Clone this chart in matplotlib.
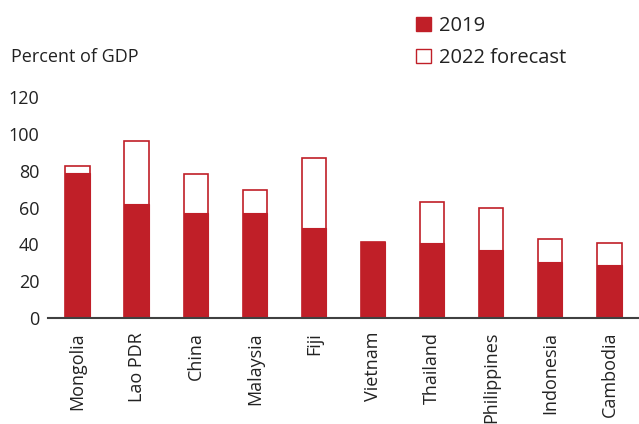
import matplotlib
matplotlib.use("Agg")
import matplotlib.pyplot as plt
from matplotlib.patches import Patch

countries = ["Mongolia", "Lao PDR", "China", "Malaysia", "Fiji", "Vietnam",
             "Thailand", "Philippines", "Indonesia", "Cambodia"]
debt_2019 = [79, 62, 57, 57, 49, 41.5, 41, 37, 30.5, 29]
debt_2022 = [82.5, 96, 78, 69.5, 87, 41.5, 63, 60, 43, 41]
yticks = [0, 20, 40, 60, 80, 100, 120]

red = "#C01F28"
plt.rcParams['font.family'] = ['Open Sans', 'DejaVu Sans']

fig = plt.figure(figsize=(6.39, 4.24), dpi=100)
ax = fig.add_axes([0.075, 0.25, 0.925, 0.521])

x = range(len(countries))
w = 0.41
ax.bar(x, debt_2022, width=w, facecolor="white", edgecolor=red, linewidth=1.2, zorder=2)
ax.bar(x, debt_2019, width=w, facecolor=red, edgecolor=red, linewidth=0.8, zorder=3)

ax.set_xlim(-0.5, 9.5)
ax.set_ylim(0, 120)
ax.set_yticks(yticks)
ax.set_xticks(list(x))
ax.set_xticklabels(countries, rotation=90, fontsize=13, color="#222222")
ax.tick_params(axis='y', length=0, labelsize=13, labelcolor="#222222", pad=6)
ax.tick_params(axis='x', length=0, pad=10)
for s in ["top", "right", "left"]:
    ax.spines[s].set_visible(False)
ax.spines["bottom"].set_color("#404040")
ax.spines["bottom"].set_linewidth(1.5)
ax.spines["bottom"].set_zorder(4)

fig.text(0.017, 0.866, "Percent of GDP", fontsize=13, color="#222222", va="center", ha="left")

handles = [Patch(facecolor=red, edgecolor=red, label="2019"),
           Patch(facecolor="white", edgecolor=red, label="2022 forecast")]
fig.legend(handles=handles, loc="upper left", bbox_to_anchor=(0.622, 1.005), frameon=False,
           fontsize=14.5, handlelength=0.75, handleheight=0.75, handletextpad=0.4,
           labelspacing=0.6, labelcolor="#222222")

fig.savefig("out.png", dpi=100)
